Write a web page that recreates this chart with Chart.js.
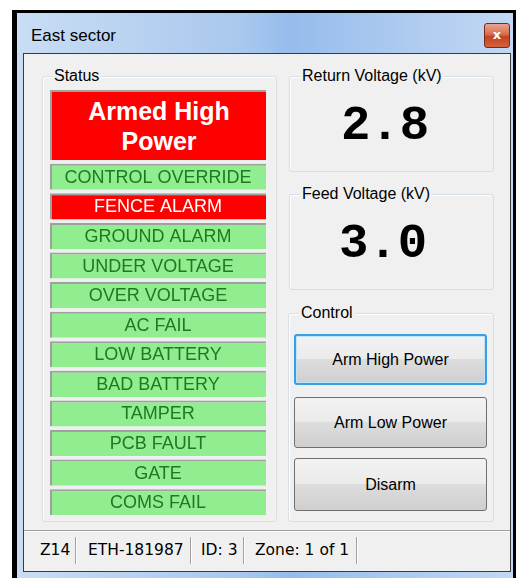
<!DOCTYPE html>
<html>
<head>
<meta charset="utf-8">
<script src="https://cdn.jsdelivr.net/npm/chart.js@4"></script>
<style>
  html, body { margin: 0; padding: 0; background: #fff; }
  body { width: 516px; height: 579px; position: relative; overflow: hidden; font-family: "Liberation Sans", Arial, sans-serif; }
  .abs { position: absolute; box-sizing: border-box; }
  #frame { left: 12px; top: 10px; width: 504px; height: 568px; background: linear-gradient(90deg, #c9ddf4 0%, #a9c8ee 45%, #97bcec 55%, #c2d8f3 100%); border-left: 5px solid #000; border-top: 3px solid #000; border-right: 3px solid #000; }
  #title { left: 31px; top: 26px; font-size: 17px; color: #000; }
  #close { left: 484px; top: 23px; width: 26px; height: 25px; border: 1px solid #7a2a1a; border-radius: 3px; background: linear-gradient(#e9a58e 0%, #d86c4c 45%, #c4421f 55%, #d4633e 100%); color: #fff; font: bold 13px "DejaVu Sans", sans-serif; text-align: center; line-height: 22px; }
  #client { left: 23px; top: 53px; width: 488px; height: 519px; background: #f0f0f0; border: 1px solid #3a3a3a; }
  .group { border: 1px solid #d5dfe5; border-radius: 3px; box-shadow: inset 1px 1px 0 #fff; }
  .glabel { background: #f0f0f0; font-size: 16px; color: #000; padding: 0 2px; line-height: 18px; }
  #armed { left: 50px; top: 90px; width: 216px; height: 70px; background: #ff0000; border-top: 2px solid #a0a0a0; border-left: 2px solid #a0a0a0; color: #fff; font: bold 25px "Liberation Sans", Arial, sans-serif; text-align: center; line-height: 30px; padding-top: 4px; }
  #rows { left: 50px; top: 162px; width: 216px; height: 355px; }
  .volt { font: bold 49px "Liberation Mono", "Courier New", monospace; color: #000; text-align: center; width: 206px; line-height: 50px; }
  .btn { left: 294px; width: 193px; border: 1px solid #707070; border-radius: 3px; background: linear-gradient(#f2f2f2 0%, #ebebeb 49%, #dddddd 50%, #cfcfcf 100%); font-size: 16px; text-align: center; color: #000; }
  .btn.focus { border: 2px solid #3c9ee0; box-shadow: inset 0 0 0 1px #bfe4fa; }
  #statusbar { left: 24px; top: 530px; width: 486px; height: 41px; border-top: 1px solid #a0a0a0; box-shadow: inset 0 1px 0 #fff; background: #f0f0f0; }
  .sb { top: 540px; font: 15.5px "DejaVu Sans", sans-serif; color: #000; line-height: 20px; }
  .sep { top: 537px; width: 2px; height: 27px; border-left: 1px solid #a0a0a0; border-right: 1px solid #fff; }
</style>
</head>
<body>
<div id="frame" class="abs"></div>
<div id="title" class="abs">East sector</div>
<div id="close" class="abs">x</div>
<div id="client" class="abs"></div>

<div class="abs group" style="left:42px; top:76px; width:235px; height:446px;"></div>
<div class="abs glabel" style="left:52px; top:67px;">Status</div>
<div id="armed" class="abs"></div>
<div id="rows" class="abs"><canvas id="chart"></canvas></div>

<div class="abs group" style="left:289px; top:76px; width:205px; height:96px;"></div>
<div class="abs glabel" style="left:300px; top:67px;">Return Voltage (kV)</div>
<div id="vReturn" class="abs volt" style="left:282px; top:101px;"></div>

<div class="abs group" style="left:289px; top:194px; width:205px; height:96px;"></div>
<div class="abs glabel" style="left:300px; top:185px;">Feed Voltage (kV)</div>
<div id="vFeed" class="abs volt" style="left:280px; top:219px;"></div>

<div class="abs group" style="left:288px; top:313px; width:206px; height:209px;"></div>
<div class="abs glabel" style="left:299px; top:304px;">Control</div>
<div id="buttons"></div>

<div id="statusbar" class="abs"></div>
<div id="sbar"></div>

<script>
const headline = ["Armed High", "Power"];
const statusLabels = ["CONTROL OVERRIDE", "FENCE ALARM", "GROUND ALARM", "UNDER VOLTAGE", "OVER VOLTAGE", "AC FAIL",
  "LOW BATTERY", "BAD BATTERY", "TAMPER", "PCB FAULT", "GATE", "COMS FAIL"];
const statusFill = [1, 1, 1, 1, 1, 1, 1, 1, 1, 1, 1, 1];
const statusAlarm = [0, 1, 0, 0, 0, 0, 0, 0, 0, 0, 0, 0];
const voltages = ["2.8", "3.0"];
const buttonLabels = ["Arm High Power", "Arm Low Power", "Disarm"];
const buttonTops = [334, 397, 458];
const buttonHeights = [51, 51, 53];
const statusFields = ["Z14", "ETH-181987", "ID: 3", "Zone: 1 of 1"];
const fieldLeft = [40, 88, 201, 255];
const sepLeft = [75, 190, 243, 356];

document.getElementById('armed').innerHTML = headline.join('<br>');
document.getElementById('vReturn').textContent = voltages[0];
document.getElementById('vFeed').textContent = voltages[1];

const btnBox = document.getElementById('buttons');
buttonLabels.forEach((t, i) => {
  const b = document.createElement('div');
  b.className = 'abs btn' + (i === 0 ? ' focus' : '');
  b.style.top = buttonTops[i] + 'px';
  b.style.height = buttonHeights[i] + 'px';
  b.style.lineHeight = (buttonHeights[i] - 2 - (i === 0 ? 2 : 0)) + 'px';
  b.textContent = t;
  btnBox.appendChild(b);
});

const sbar = document.getElementById('sbar');
statusFields.forEach((t, i) => {
  const s = document.createElement('div');
  s.className = 'abs sb';
  s.style.left = fieldLeft[i] + 'px';
  s.textContent = t;
  sbar.appendChild(s);
  const sep = document.createElement('div');
  sep.className = 'abs sep';
  sep.style.left = sepLeft[i] + 'px';
  sbar.appendChild(sep);
});

// labels inside each status bar
const rowText = {
  id: 'rowText',
  afterDatasetsDraw(chart) {
    const ctx = chart.ctx;
    const meta = chart.getDatasetMeta(0);
    ctx.save();
    ctx.font = '18px "Liberation Sans", Arial, sans-serif';
    ctx.textAlign = 'center';
    ctx.textBaseline = 'middle';
    meta.data.forEach((bar, i) => {
      ctx.fillStyle = statusAlarm[i] ? '#ffffff' : '#1f7a1f';
      ctx.fillText(statusLabels[i], (bar.base + bar.x) / 2, bar.y + 1);
    });
    ctx.restore();
  }
};

new Chart(document.getElementById('chart'), {
  type: 'bar',
  data: {
    labels: statusLabels,
    datasets: [{
      data: statusFill,
      backgroundColor: statusAlarm.map(a => a ? '#ff0000' : '#90ee90'),
      borderColor: '#a0a0a0',
      borderWidth: { top: 2, left: 2, right: 0, bottom: 0 },
      borderSkipped: false,
      categoryPercentage: 1,
      barPercentage: 0.88
    }]
  },
  options: {
    indexAxis: 'y',
    responsive: true,
    maintainAspectRatio: false,
    animation: false,
    layout: { padding: 0 },
    scales: {
      x: { display: false, min: 0, max: 1 },
      y: { display: false }
    },
    plugins: { legend: { display: false }, tooltip: { enabled: false } }
  },
  plugins: [rowText]
});
</script>
</body>
</html>
